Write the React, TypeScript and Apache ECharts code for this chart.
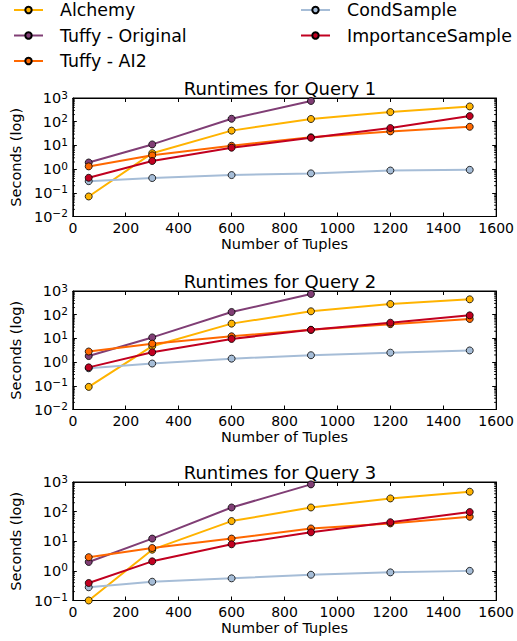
import React, { useEffect, useRef } from "react";
import * as echarts from "echarts";

const X_TUPLES = [60, 300, 600, 900, 1200, 1500];
const SERIES_NAMES = ["Alchemy", "Tuffy - Original", "Tuffy - AI2", "CondSample", "ImportanceSample"];
const SERIES_COLORS = ["#FFB300", "#803E75", "#FF6800", "#A6BDD7", "#C10020"];
const TITLES = ["Runtimes for Query 1", "Runtimes for Query 2", "Runtimes for Query 3"];
const Y_MINS = [0.01, 0.01, 0.1];
const Y_MAX = 1000;

// Query 1
const q1Alchemy = [0.07, 4.7, 42, 130, 255, 440];
const q1TuffyOriginal = [1.9, 11, 133, 750];
const q1TuffyAI2 = [1.3, 3.8, 9.7, 22, 39, 61];
const q1CondSample = [0.31, 0.42, 0.56, 0.66, 0.87, 0.93];
const q1ImportanceSample = [0.43, 2.2, 8, 21, 54, 173];

// Query 2
const q2Alchemy = [0.09, 4.7, 42, 139, 283, 446];
const q2TuffyOriginal = [1.8, 11, 130, 748];
const q2TuffyAI2 = [2.8, 6, 12.3, 23, 40, 66];
const q2CondSample = [0.55, 0.87, 1.4, 1.95, 2.5, 3.1];
const q2ImportanceSample = [0.6, 2.6, 9.5, 23, 46, 94];

// Query 3
const q3Alchemy = [0.1, 5.2, 48, 138, 279, 470];
const q3TuffyOriginal = [2.0, 12.3, 138, 830];
const q3TuffyAI2 = [2.9, 5.9, 12.3, 27, 40, 67];
const q3CondSample = [0.28, 0.43, 0.56, 0.74, 0.89, 1.0];
const q3ImportanceSample = [0.39, 2.1, 7.9, 20, 44, 97];

const QUERIES = [
  [q1Alchemy, q1TuffyOriginal, q1TuffyAI2, q1CondSample, q1ImportanceSample],
  [q2Alchemy, q2TuffyOriginal, q2TuffyAI2, q2CondSample, q2ImportanceSample],
  [q3Alchemy, q3TuffyOriginal, q3TuffyAI2, q3CondSample, q3ImportanceSample],
];

const FONT = "DejaVu Sans";
const GRID_TOPS = [98, 291, 482];
const GRID_LEFT = 63;
const GRID_WIDTH = 434;
const GRID_HEIGHT = 118.5;

function minorTickValues(min: number, max: number): number[] {
  const out: number[] = [];
  for (let e = Math.round(Math.log10(min)); e < Math.round(Math.log10(max)); e++) {
    for (let m = 2; m <= 9; m++) out.push(m * Math.pow(10, e));
  }
  return out;
}

function yLabel(v: number): string {
  const e = Math.round(Math.log10(v));
  const s = e < 0 ? "\u2212" + -e : String(e);
  return `{b|10}{s|${s}}`;
}

export default function App() {
  const ref = useRef<HTMLDivElement>(null);
  useEffect(() => {
    if (!ref.current) return;
    const chart = echarts.init(ref.current, undefined, { renderer: "svg" });

    const grids: any[] = [];
    const xAxes: any[] = [];
    const yAxes: any[] = [];
    const series: any[] = [];
    const titles: any[] = [];

    GRID_TOPS.forEach((top, gi) => {
      grids.push({
        left: GRID_LEFT,
        top,
        width: GRID_WIDTH,
        height: GRID_HEIGHT,
        show: true,
        borderColor: "#000",
        borderWidth: 1,
        backgroundColor: "transparent",
        containLabel: false,
      });
      titles.push({
        text: TITLES[gi],
        left: GRID_LEFT + GRID_WIDTH / 2,
        textAlign: "center",
        top: top - 21,
        padding: 0,
        textStyle: { fontFamily: FONT, fontSize: 18, fontWeight: "normal", color: "#000", lineHeight: 22 },
      });
      const xCommon = {
        type: "value",
        gridIndex: gi,
        min: 0,
        max: 1600,
        interval: 200,
        splitLine: { show: false },
        axisLine: { show: true, onZero: false, lineStyle: { color: "#000", width: 1 } },
        axisTick: { show: true, inside: true, length: 4, lineStyle: { color: "#000", width: 1 } },
      };
      xAxes.push({
        ...xCommon,
        position: "bottom",
        name: "Number of Tuples",
        nameLocation: "middle",
        nameGap: 20,
        nameTextStyle: { fontFamily: FONT, fontSize: 14.5, color: "#000" },
        axisLabel: {
          fontFamily: FONT,
          fontSize: 14,
          color: "#000",
          margin: 4,
          formatter: (v: number) => String(v),
        },
      });
      xAxes.push({ ...xCommon, position: "top", axisLabel: { show: false } });
      const yCommon = {
        type: "log",
        logBase: 10,
        gridIndex: gi,
        min: Y_MINS[gi],
        max: Y_MAX,
        splitLine: { show: false },
        axisLine: { show: true, onZero: false, lineStyle: { color: "#000", width: 1 } },
        axisTick: { show: true, inside: true, length: 4, lineStyle: { color: "#000", width: 1 } },
      };
      yAxes.push({
        ...yCommon,
        position: "left",
        name: "Seconds (log)",
        nameLocation: "middle",
        nameGap: 39,
        nameTextStyle: { fontFamily: FONT, fontSize: 14.5, color: "#000" },
        axisLabel: {
          margin: 5,
          formatter: yLabel,
          rich: {
            b: { fontFamily: FONT, fontSize: 14.5, color: "#000", lineHeight: 18 },
            s: { fontFamily: FONT, fontSize: 10.5, color: "#000", lineHeight: 10, verticalAlign: "top" },
          },
        },
      });
      yAxes.push({ ...yCommon, position: "right", axisLabel: { show: false } });

      const minors = minorTickValues(Y_MINS[gi], Y_MAX);
      series.push({
        type: "custom",
        xAxisIndex: gi * 2,
        yAxisIndex: gi * 2,
        silent: true,
        clip: false,
        z: 1,
        data: minors.map((v) => [0, v]),
        renderItem: (params: any, api: any) => {
          const p = api.coord([0, api.value(1)]);
          const cs = params.coordSys;
          const st = { stroke: "#000", lineWidth: 1 };
          return {
            type: "group",
            children: [
              { type: "line", shape: { x1: cs.x, y1: p[1], x2: cs.x + 2, y2: p[1] }, style: st },
              { type: "line", shape: { x1: cs.x + cs.width - 2, y1: p[1], x2: cs.x + cs.width, y2: p[1] }, style: st },
            ],
          };
        },
      });

      QUERIES[gi].forEach((vals, si) => {
        series.push({
          type: "line",
          name: SERIES_NAMES[si],
          xAxisIndex: gi * 2,
          yAxisIndex: gi * 2,
          data: vals.map((v, k) => [X_TUPLES[k], v]),
          symbol: "circle",
          symbolSize: 7,
          showSymbol: true,
          clip: true,
          z: 2 + si,
          lineStyle: { color: SERIES_COLORS[si], width: 2 },
          itemStyle: { color: SERIES_COLORS[si], borderColor: "#000", borderWidth: 0.8 },
          emphasis: { disabled: true },
        });
      });
    });

    const legendCommon = {
      orient: "vertical",
      top: 0,
      padding: 0,
      itemWidth: 29,
      itemHeight: 8,
      itemGap: 5.5,
      selectedMode: false,
      textStyle: { fontFamily: FONT, fontSize: 17.4, color: "#000", lineHeight: 20, padding: [0, 0, 0, 12] },
    };

    chart.setOption({
      animation: false,
      backgroundColor: "#fff",
      title: titles,
      legend: [
        { ...legendCommon, left: 13, data: SERIES_NAMES.slice(0, 3) },
        { ...legendCommon, left: 300, data: SERIES_NAMES.slice(3) },
      ],
      grid: grids,
      xAxis: xAxes,
      yAxis: yAxes,
      series,
    });
    return () => chart.dispose();
  }, []);

  return (
    <div
      ref={ref}
      style={{ position: "fixed", left: 0, top: 0, width: 517, height: 641, background: "#fff" }}
    />
  );
}
